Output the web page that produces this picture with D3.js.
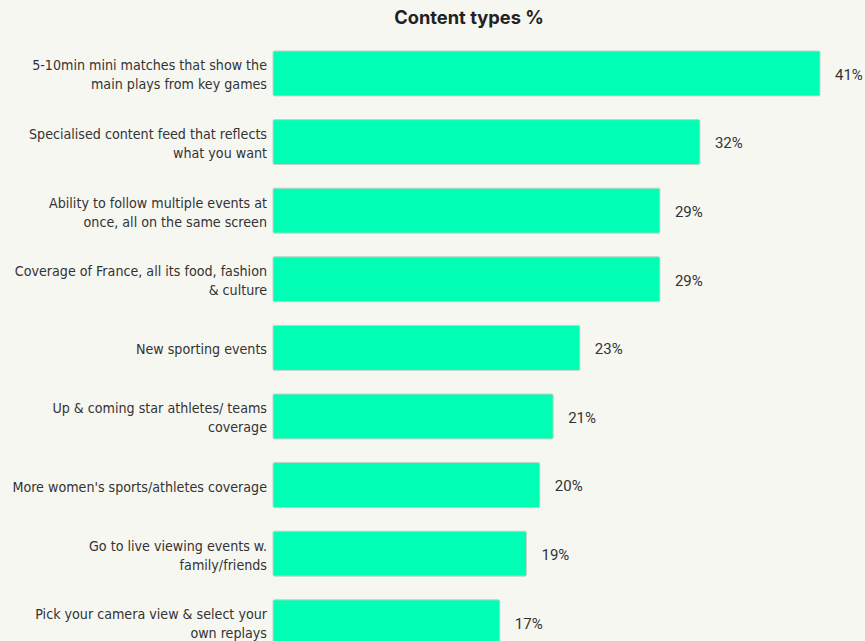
<!DOCTYPE html>
<html>
<head>
<meta charset="utf-8">
<script src="https://cdn.jsdelivr.net/npm/d3@7"></script>
<style>
  html, body { margin: 0; padding: 0; background: #f7f7f2; }
  svg { display: block; }
</style>
</head>
<body>
<div id="chart"></div>
<script>
const categories = [
  "5-10min mini matches that show the\nmain plays from key games",
  "Specialised content feed that reflects\nwhat you want",
  "Ability to follow multiple events at\nonce, all on the same screen",
  "Coverage of France, all its food, fashion\n& culture",
  "New sporting events",
  "Up & coming star athletes/ teams\ncoverage",
  "More women's sports/athletes coverage",
  "Go to live viewing events w.\nfamily/friends",
  "Pick your camera view & select your\nown replays"
];
const values = [41, 32, 29, 29, 23, 21, 20, 19, 17];
const title = "Content types %";

const W = 865, H = 641;
const margin = { top: 51, left: 273 };
const step = 68.6;
const pad = 0.345;

const svg = d3.select("#chart").append("svg").attr("width", W).attr("height", H);
svg.append("rect").attr("width", W).attr("height", H).attr("fill", "#f7f7f2");

svg.append("text")
  .attr("x", 469).attr("y", 24)
  .attr("text-anchor", "middle")
  .attr("font-family", "Inter, 'Noto Sans', sans-serif")
  .attr("font-weight", 700)
  .attr("font-size", 18.3)
  .attr("fill", "#222")
  .text(title);

const x = d3.scaleLinear().domain([0, 41]).range([margin.left, margin.left + 547]);
const y = d3.scaleBand()
  .domain(categories)
  .range([margin.top, margin.top + step * (categories.length - pad)])
  .paddingInner(pad).paddingOuter(0).align(0);

const data = categories.map((c, i) => ({ c, v: values[i] }));

svg.selectAll("rect.bar").data(data).enter().append("rect")
  .attr("class", "bar")
  .attr("x", x(0))
  .attr("y", d => y(d.c))
  .attr("width", d => x(d.v) - x(0))
  .attr("height", y.bandwidth())
  .attr("rx", 1.5)
  .attr("fill", "#00ffb4")
  .attr("stroke", "#c8cfc8")
  .attr("stroke-width", 1);

svg.selectAll("text.val").data(data).enter().append("text")
  .attr("class", "val")
  .attr("x", d => x(d.v) + 15)
  .attr("y", d => y(d.c) + y.bandwidth() / 2 + 1)
  .attr("dy", "0.35em")
  .attr("font-family", "Roboto, sans-serif")
  .attr("font-size", 15)
  .attr("fill", "#333")
  .text(d => d.v + "%");

const labels = svg.selectAll("text.cat").data(data).enter().append("text")
  .attr("class", "cat")
  .attr("text-anchor", "end")
  .attr("font-family", "'DejaVu Sans Condensed', 'DejaVu Sans', sans-serif")
  .attr("font-stretch", "condensed")
  .attr("font-size", 14.15)
  .attr("fill", "#333");

labels.each(function(d) {
  const lines = d.c.split("\n");
  const cy = y(d.c) + y.bandwidth() / 2 + 1.5;
  const lh = 19;
  const start = cy - (lines.length - 1) * lh / 2;
  d3.select(this).selectAll("tspan").data(lines).enter().append("tspan")
    .attr("x", 267)
    .attr("y", (l, i) => start + i * lh)
    .attr("dy", "0.35em")
    .text(l => l);
});
</script>
</body>
</html>
